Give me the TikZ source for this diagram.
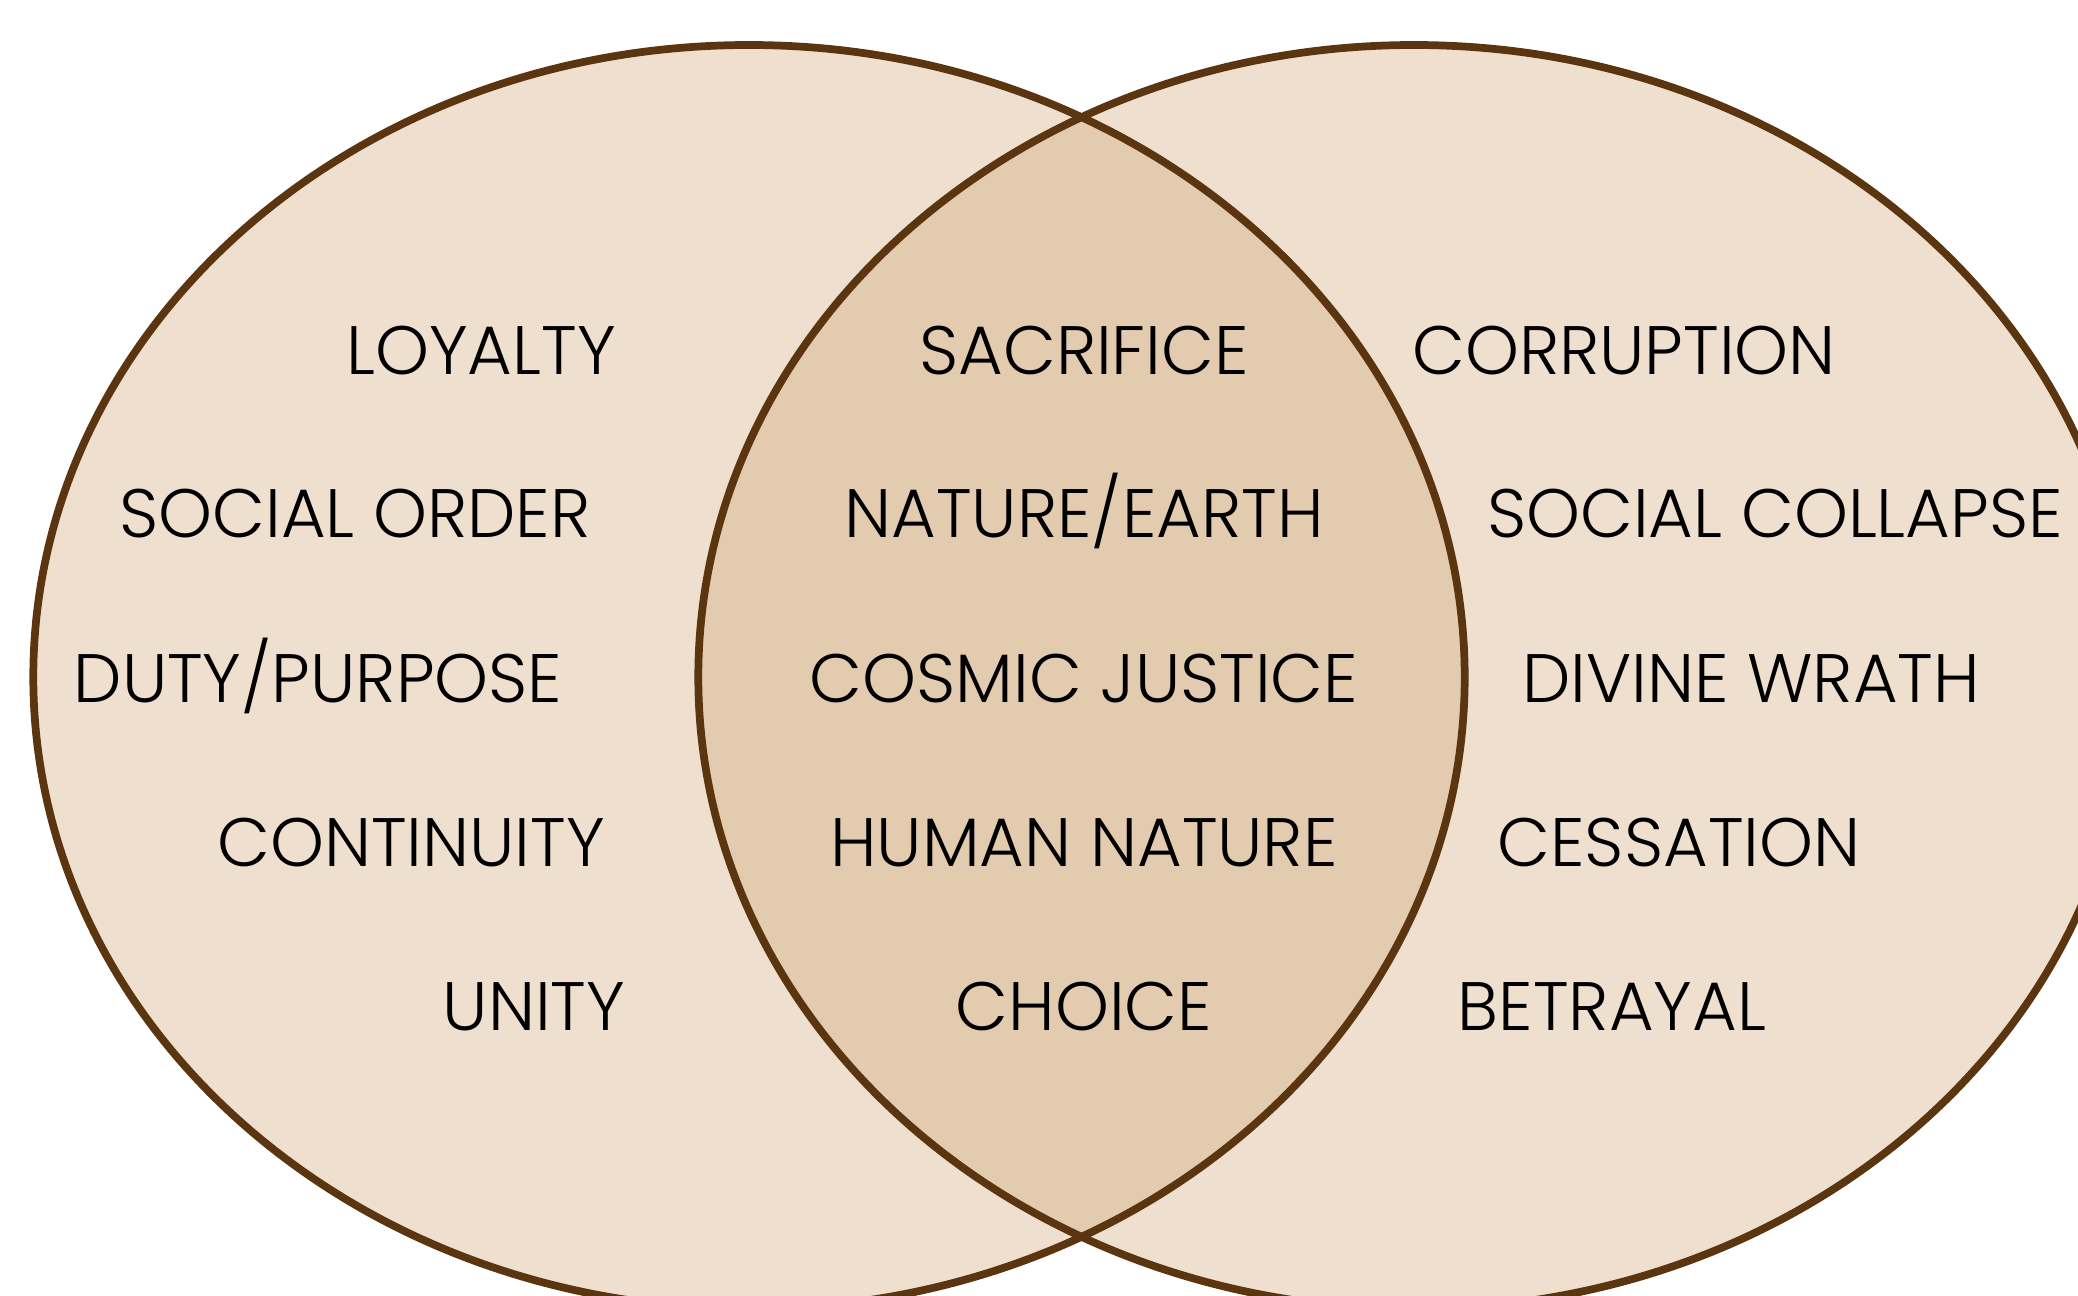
\documentclass[tikz,border=0pt]{standalone}
\usepackage{fontspec}
\setmainfont{Poppins Light}
\usepackage{tikz}

\definecolor{sand}{HTML}{EEDFCF}
\definecolor{lens}{HTML}{E3CBB0}
\definecolor{bark}{HTML}{5A3510}

\begin{document}
\begin{tikzpicture}[line width=2.2pt,
  theme/.style={font=\fontsize{19.5}{23}\selectfont, anchor=base, inner sep=0pt}]

\useasboundingbox (0,0) rectangle (20.78,12.95);
\clip (0,0) rectangle (20.78,12.95);

% Left ellipse
\fill[sand] (7.49,6.18) ellipse [x radius=7.157, y radius=6.32];

% Right ellipse
\fill[sand] (14.14,6.18) ellipse [x radius=7.157, y radius=6.32];

% Overlap
\begin{scope}
  \clip (7.49,6.18) ellipse [x radius=7.157, y radius=6.32];
  \fill[lens] (14.14,6.18) ellipse [x radius=7.157, y radius=6.32];
\end{scope}

% Outlines
\draw[bark] (7.49,6.18) ellipse [x radius=7.157, y radius=6.32];
\draw[bark] (14.14,6.18) ellipse [x radius=7.157, y radius=6.32];

% Left themes
\node[theme] (loyalty) at (4.81,9.21) {LOYALTY};
\node[theme] (order) at (3.55,7.57) {SOCIAL ORDER};
\node[theme] (duty) at (3.18,5.93) {DUTY/PURPOSE};
\node[theme] (continuity) at (4.11,4.29) {CONTINUITY};
\node[theme] (unity) at (5.34,2.65) {UNITY};

% Shared themes
\node[theme] (sacrifice) at (10.84,9.21) {SACRIFICE};
\node[theme] (nature) at (10.84,7.57) {NATURE/EARTH};
\node[theme] (justice) at (10.84,5.93) {COSMIC JUSTICE};
\node[theme] (human) at (10.84,4.29) {HUMAN NATURE};
\node[theme] (choice) at (10.84,2.65) {CHOICE};

% Right themes
\node[theme] (corruption) at (16.24,9.21) {CORRUPTION};
\node[theme] (collapse) at (17.75,7.57) {SOCIAL COLLAPSE};
\node[theme] (wrath) at (17.51,5.93) {DIVINE WRATH};
\node[theme] (cessation) at (16.79,4.29) {CESSATION};
\node[theme] (betrayal) at (16.12,2.65) {BETRAYAL};

\end{tikzpicture}
\end{document}
